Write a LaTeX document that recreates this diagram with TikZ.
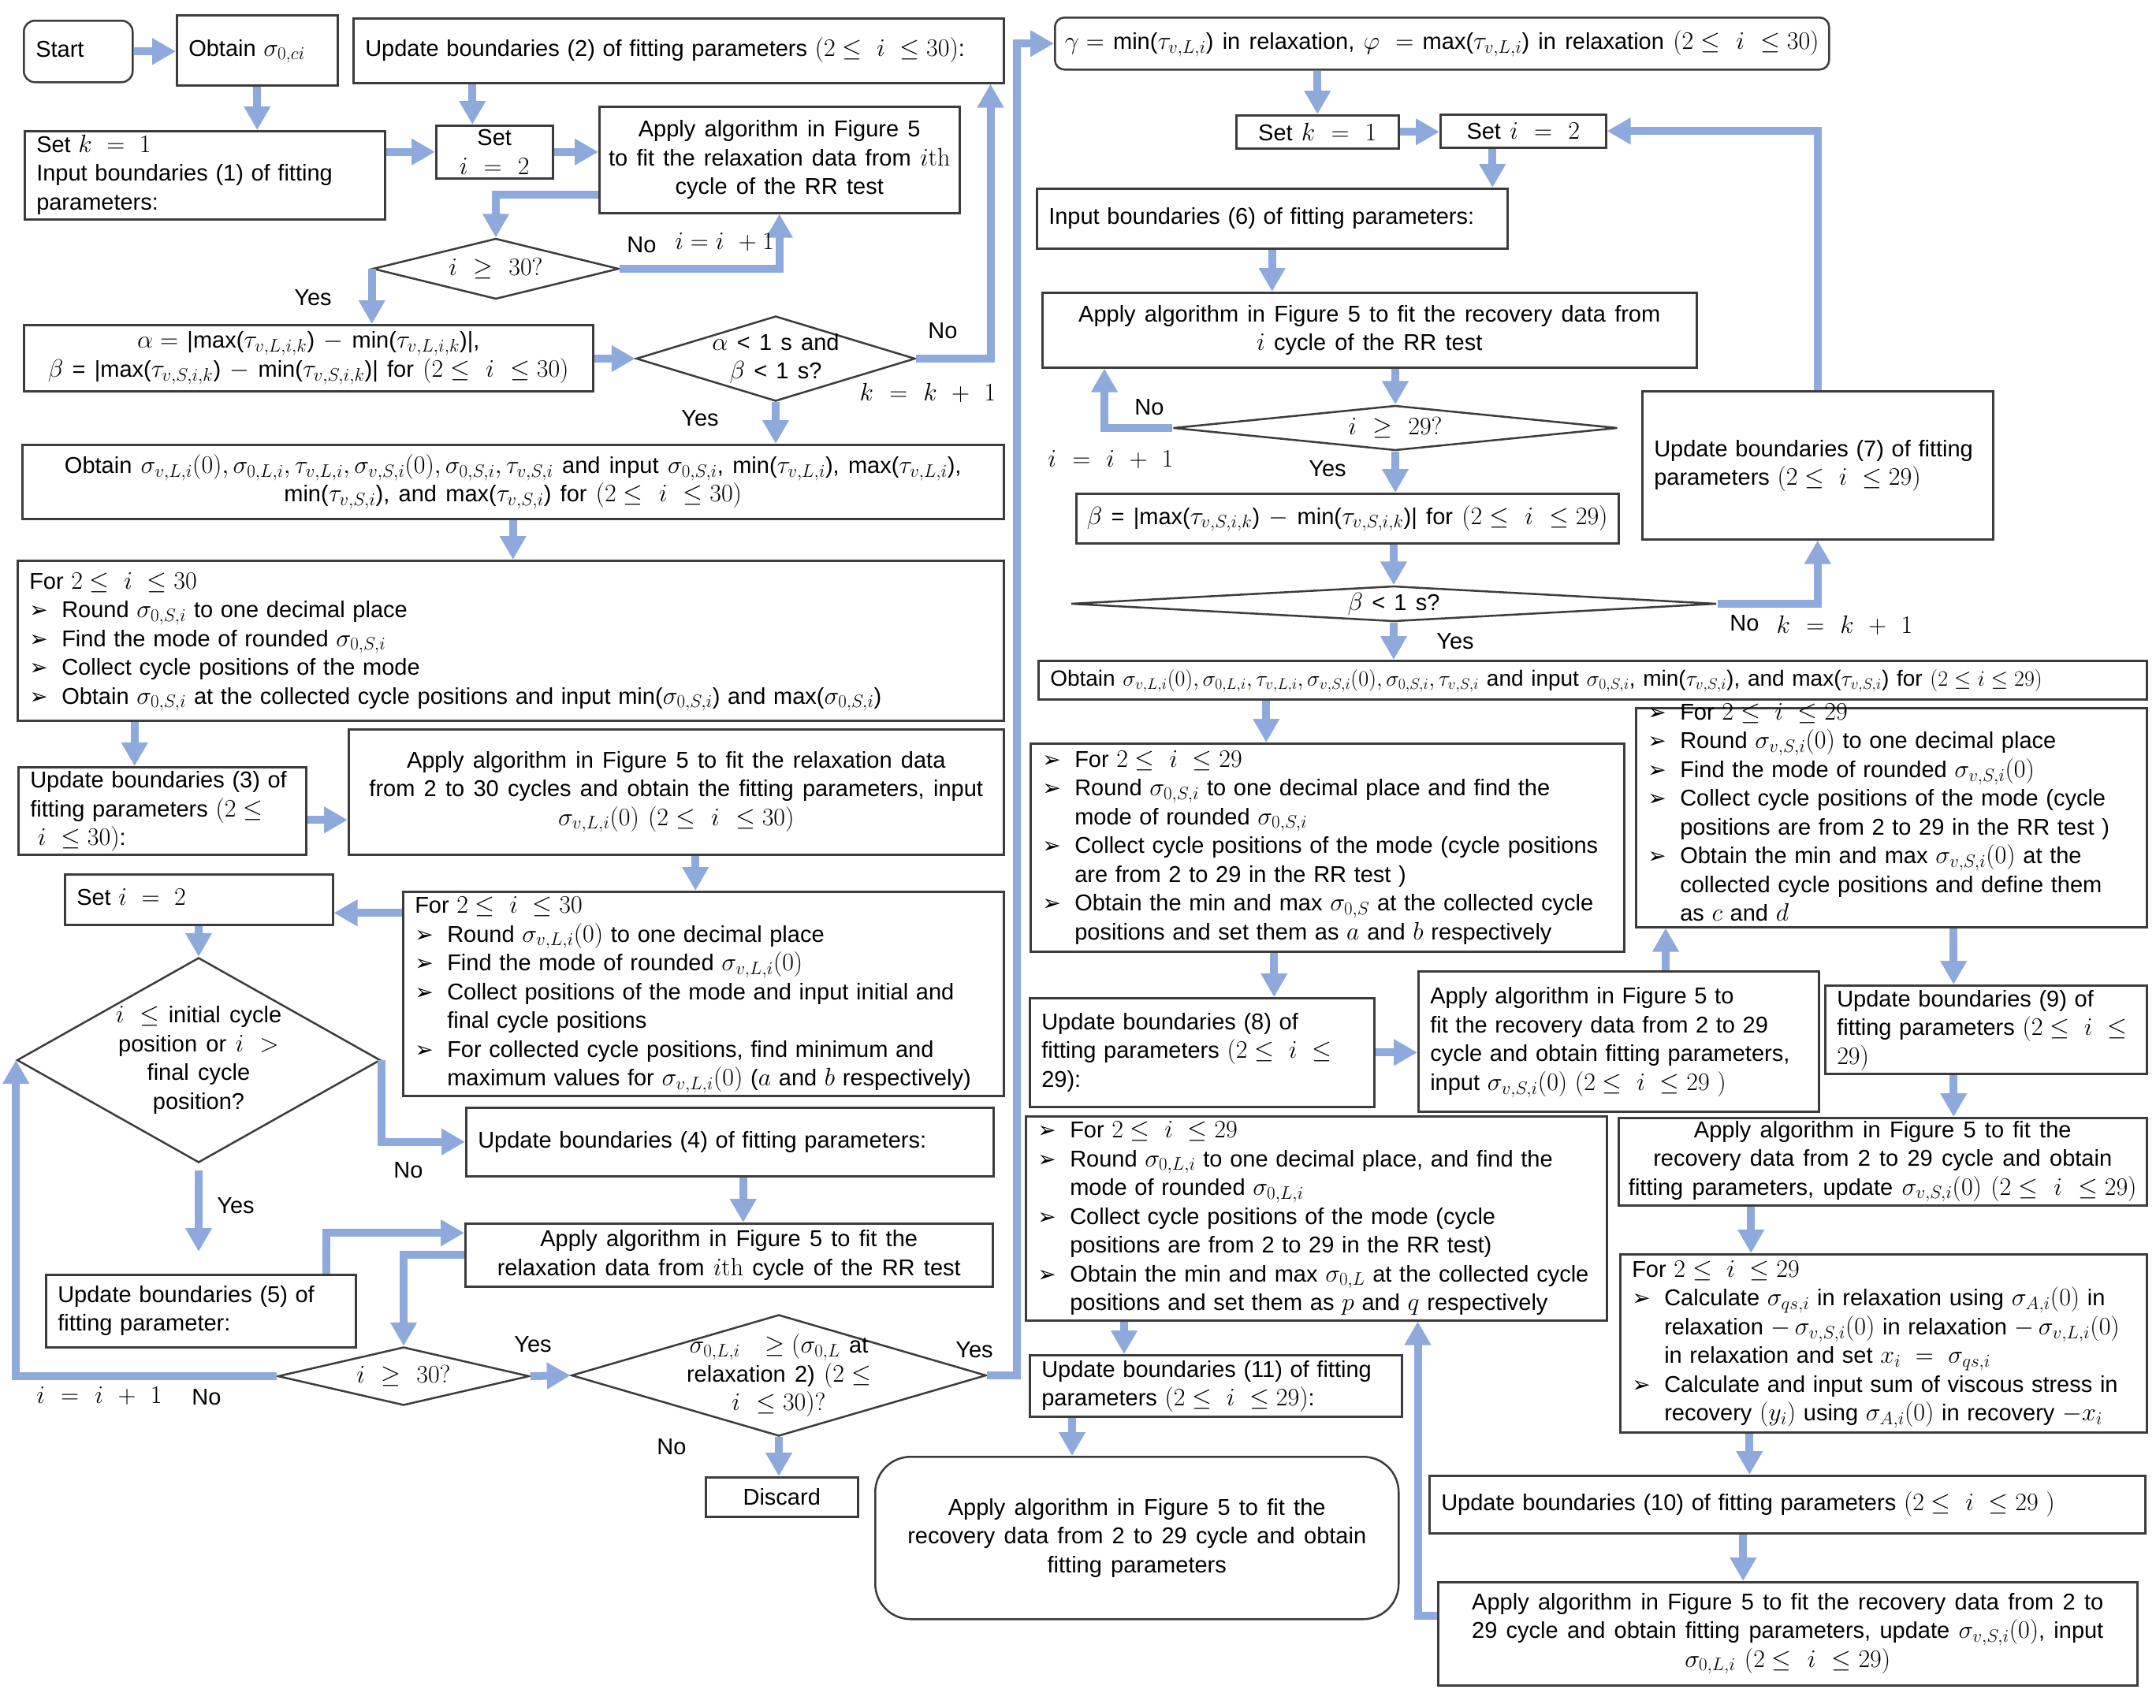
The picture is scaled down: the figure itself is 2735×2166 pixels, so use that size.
\RequirePackage{fix-cm}
\documentclass[tikz,border=0pt]{standalone}
\usepackage[no-math]{fontspec}
\setmainfont{Liberation Sans}[WordSpace=1.4]
\newfontfamily\dejavu{DejaVu Sans}
\usetikzlibrary{arrows.meta,shapes.geometric}
\DeclareMathSizes{29}{32}{23}{17}
\definecolor{conn}{RGB}{142,169,219}
\definecolor{edge}{RGB}{60,60,60}
\newcommand\fs{\fontsize{29}{36.5}\selectfont}
\newcommand\bl{\makebox[27pt][l]{\dejavu\fontsize{28}{28}\selectfont ➢}}
\newcommand\lt[1]{\begin{tabular}{@{}l@{}}#1\end{tabular}}
\newcommand\blt[1]{\begin{tabular}{@{}l@{\hspace{14pt}}l@{}}#1\end{tabular}}
\tikzset{
 box/.style={draw=edge, line width=2.5pt, fill=white, font=\fs, inner sep=0pt, anchor=north west},
 lbox/.style={box, inner xsep=15pt},
 cbox/.style={box, align=center},
 dshape/.style={diamond, draw=edge, line width=2.5pt, fill=white, inner sep=0pt},
 dtext/.style={font=\fs, align=center, inner sep=0pt},
 arr/.style={draw=conn, line width=10pt, -{Triangle[length=30pt,width=32pt]}},
 lab/.style={font=\fs, inner sep=0pt}
}
\begin{document}
\begin{tikzpicture}[x=1pt,y=-1pt]
\fill[white] (0,0) rectangle (2735,2166);
\useasboundingbox (0,0) rectangle (2735,2166);

% ---------------- left part ----------------
\node[lbox, rounded corners=14pt, text width=108pt, minimum height=78pt] (start) at (29,25) {\lt{Start}};
\node[lbox, text width=174pt, minimum height=89pt] (obtain0) at (223,18) {\lt{Obtain $\sigma_{0,ci}$}};
\node[lbox, text width=795pt, minimum height=82pt] (upd2) at (447,22) {\lt{Update boundaries (2) of fitting parameters $(2\le\ i\ \le 30)$:}};
\node[lbox, text width=427pt, minimum height=112pt] (setk) at (30,165) {\lt{Set $k\ =\ 1$\\Input boundaries (1) of fitting\\parameters:}};
\node[cbox, minimum width=148pt, minimum height=67pt] (seti) at (552,158) {Set\\$i\ =\ 2$};
\node[cbox, minimum width=457pt, minimum height=135pt] (app1) at (759,134) {Apply algorithm in Figure 5\\to fit the relaxation data from $i\mathrm{th}$\\cycle of the RR test};
\node[dshape, minimum width=312pt, minimum height=77pt] (d_i30) at (629,341) {};
\node[dtext] (d_i30t) at (d_i30) {$i\ \ge\ 30?$};
\node[cbox, minimum width=722pt, minimum height=84pt] (alpha) at (29,411) {$\alpha =$\ |max($\tau_{v,L,i,k}$) $-$ min($\tau_{v,L,i,k}$)|,\\$\beta$ = |max($\tau_{v,S,i,k}$) $-$ min($\tau_{v,S,i,k}$)| for $(2\le\ i\ \le 30)$};
\node[dshape, minimum width=354pt, minimum height=108pt] (d_alpha) at (984,455) {};
\node[dtext] (d_alphat) at (d_alpha) {$\alpha$ < 1 s and\\$\beta$ < 1 s?};
\node[cbox, minimum width=1245pt, minimum height=94pt] (obt1) at (27,563) {Obtain $\sigma_{v,L,i}(0),\sigma_{0,L,i},\tau_{v,L,i},\sigma_{v,S,i}(0),\sigma_{0,S,i},\tau_{v,S,i}$ and input $\sigma_{0,S,i}$, min($\tau_{v,L,i}$), max($\tau_{v,L,i}$),\\min($\tau_{v,S,i}$), and max($\tau_{v,S,i}$) for $(2\le\ i\ \le 30)$};
\node[lbox, text width=1221pt, minimum height=203pt] (for1) at (21,710) {\blt{\multicolumn{2}{@{}l@{}}{For $2\le\ i\ \le 30$}\\
\bl & Round $\sigma_{0,S,i}$ to one decimal place\\
\bl & Find the mode of rounded $\sigma_{0,S,i}$\\
\bl & Collect cycle positions of the mode\\
\bl & Obtain $\sigma_{0,S,i}$ at the collected cycle positions and input min($\sigma_{0,S,i}$) and max($\sigma_{0,S,i}$)}};
\node[lbox, text width=335pt, minimum height=111pt] (upd3) at (22,972) {\lt{Update boundaries (3) of\\fitting parameters $(2\le$\\\ $i\ \le 30)$:}};
\node[cbox, minimum width=831pt, minimum height=159pt] (app2) at (441,924) {Apply algorithm in Figure 5 to fit the relaxation data\\from 2 to 30 cycles and obtain the fitting parameters, input\\$\sigma_{v,L,i}(0)\ (2\le\ i\ \le 30)$};
\node[lbox, text width=310pt, minimum height=64pt] (seti2) at (81,1108) {\lt{Set $i\ =\ 2$}};
\node[lbox, text width=732pt, minimum height=259pt] (for2) at (510,1130) {\blt{\multicolumn{2}{@{}l@{}}{For $2\le\ i\ \le 30$}\\
\bl & Round $\sigma_{v,L,i}(0)$ to one decimal place\\
\bl & Find the mode of rounded $\sigma_{v,L,i}(0)$\\
\bl & Collect positions of the mode and input initial and\\
 & final cycle positions\\
\bl & For collected cycle positions, find minimum and\\
 & maximum values for $\sigma_{v,L,i}(0)$ ($a$ and $b$ respectively)}};
\node[dshape, minimum width=461pt, minimum height=260pt] (d_init) at (252,1345) {};
\node[dtext] (d_initt) at (d_init) {$i\ \le$ initial cycle\\position or $i\ >$\\final cycle\\position?};
\node[lbox, text width=639pt, minimum height=87pt] (upd4) at (590,1404) {\lt{Update boundaries (4) of fitting parameters:}};
\node[cbox, minimum width=669pt, minimum height=80pt] (app3) at (589,1551) {Apply algorithm in Figure 5 to fit the\\relaxation data from $i\mathrm{th}$ cycle of the RR test};
\node[lbox, text width=363pt, minimum height=92pt] (upd5) at (57,1616) {\lt{Update boundaries (5) of\\fitting parameter:}};
\node[dshape, minimum width=319pt, minimum height=74pt] (d_i30b) at (512,1746) {};
\node[dtext] (d_i30bt) at (d_i30b) {$i\ \ge\ 30?$};
\node[dshape, minimum width=526pt, minimum height=154pt] (d_sig) at (988,1745) {};
\node[dtext] (d_sigt) at (d_sig) {$\sigma_{0,L,i}\ \ \ge(\sigma_{0,L}$ at\\relaxation 2) $(2\le$\\$i\ \le 30)?$};
\node[cbox, minimum width=193pt, minimum height=50pt] (discard) at (894,1873) {Discard};

% ---------------- right part ----------------
\node[cbox, rounded corners=12pt, minimum width=982pt, minimum height=66pt] (gamma) at (1337,21) {$\gamma =$ min($\tau_{v,L,i}$) in relaxation, $\varphi\ =$ max($\tau_{v,L,i}$) in relaxation $(2\le\ i\ \le 30)$};
\node[cbox, minimum width=206pt, minimum height=42pt] (setk2) at (1567,145) {Set $k\ =\ 1$};
\node[cbox, minimum width=210pt, minimum height=42pt] (seti3) at (1826,144) {Set $i\ =\ 2$};
\node[lbox, text width=567pt, minimum height=76pt] (inp6) at (1314,238) {\lt{Input boundaries (6) of fitting parameters:}};
\node[cbox, minimum width=830pt, minimum height=95pt] (app4) at (1321,370) {Apply algorithm in Figure 5 to fit the recovery data from\\$i$ cycle of the RR test};
\node[dshape, minimum width=564pt, minimum height=57pt] (d_i29) at (1770,543) {};
\node[dtext] (d_i29t) at (d_i29) {$i\ \ge\ 29?$};
\node[cbox, minimum width=688pt, minimum height=63pt] (beta) at (1364,625) {$\beta$ = |max($\tau_{v,S,i,k}$) $-$ min($\tau_{v,S,i,k}$)| for $(2\le\ i\ \le 29)$};
\node[lbox, text width=415pt, minimum height=188pt] (upd7) at (2082,495) {\lt{Update boundaries (7) of fitting\\parameters $(2\le\ i\ \le 29)$}};
\node[dshape, minimum width=819pt, minimum height=45pt] (d_beta) at (1768,766) {};
\node[dtext] (d_betat) at (d_beta) {$\beta$ < 1 s?};
\node[lbox, text width=1376pt, minimum height=49pt] (obt2) at (1316,837) {\fontsize{28}{36.5}\selectfont\lt{Obtain $\sigma_{v,L,i}(0),\sigma_{0,L,i},\tau_{v,L,i},\sigma_{v,S,i}(0),\sigma_{0,S,i},\tau_{v,S,i}$ and input $\sigma_{0,S,i}$, min($\tau_{v,S,i}$), and max($\tau_{v,S,i}$) for $(2\le i\le 29)$}};
\node[lbox, text width=723pt, minimum height=264pt] (for3) at (1306,942) {\blt{\bl & For $2\le\ i\ \le 29$\\
\bl & Round $\sigma_{0,S,i}$ to one decimal place and find the\\
 & mode of rounded $\sigma_{0,S,i}$\\
\bl & Collect cycle positions of the mode (cycle positions\\
 & are from 2 to 29 in the RR test )\\
\bl & Obtain the min and max $\sigma_{0,S}$ at the collected cycle\\
 & positions and set them as $a$ and $b$ respectively}};
\node[lbox, text width=618pt, minimum height=278pt] (for4) at (2074,897) {\raisebox{-9pt}{\smash{\blt{\bl & For $2\le\ i\ \le 29$\\
\bl & Round $\sigma_{v,S,i}(0)$ to one decimal place\\
\bl & Find the mode of rounded $\sigma_{v,S,i}(0)$\\
\bl & Collect cycle positions of the mode (cycle\\
 & positions are from 2 to 29 in the RR test )\\
\bl & Obtain the min and max $\sigma_{v,S,i}(0)$ at the\\
 & collected cycle positions and define them\\
 & as $c$ and $d$}}}};
\node[lbox, text width=407pt, minimum height=138pt] (upd8) at (1305,1265) {\lt{Update boundaries (8) of\\fitting parameters $(2\le\ i\ \le$\\29):}};
\node[lbox, text width=478pt, minimum height=178pt] (app5) at (1798,1231) {\lt{Apply algorithm in Figure 5 to\\fit the recovery data from 2 to 29\\cycle and obtain fitting parameters,\\input $\sigma_{v,S,i}(0)$ $(2\le\ i\ \le 29\ )$}};
\node[lbox, text width=378pt, minimum height=112pt] (upd9) at (2314,1249) {\lt{Update boundaries (9) of\\fitting parameters $(2\le\ i\ \le$\\$29)$}};
\node[cbox, minimum width=670pt, minimum height=111pt] (app6) at (2052,1417) {Apply algorithm in Figure 5 to fit the\\recovery data from 2 to 29 cycle and obtain\\fitting parameters, update $\sigma_{v,S,i}(0)$ $(2\le\ i\ \le 29)$};
\node[lbox, text width=638pt, minimum height=226pt] (calc) at (2054,1590) {\blt{\multicolumn{2}{@{}l@{}}{For $2\le\ i\ \le 29$}\\
\bl & Calculate $\sigma_{qs,i}$ in relaxation using $\sigma_{A,i}(0)$ in\\
 & relaxation $-\,\sigma_{v,S,i}(0)$ in relaxation $-\,\sigma_{v,L,i}(0)$\\
 & in relaxation and set $x_i\ =\ \sigma_{qs,i}$\\
\bl & Calculate and input sum of viscous stress in\\
 & recovery $(y_i)$ using $\sigma_{A,i}(0)$ in recovery $-x_i$}};
\node[lbox, text width=878pt, minimum height=73pt] (upd10) at (1812,1871) {\lt{Update boundaries (10) of fitting parameters $(2\le\ i\ \le 29\ )$}};
\node[cbox, minimum width=887pt, minimum height=131pt] (app7) at (1823,2006) {Apply algorithm in Figure 5 to fit the recovery data from 2 to\\29 cycle and obtain fitting parameters, update $\sigma_{v,S,i}(0)$, input\\$\sigma_{0,L,i}$ $(2\le\ i\ \le 29)$};
\node[lbox, text width=707pt, minimum height=259pt] (for5) at (1300,1415) {\blt{\bl & For $2\le\ i\ \le 29$\\
\bl & Round $\sigma_{0,L,i}$ to one decimal place, and find the\\
 & mode of rounded $\sigma_{0,L,i}$\\
\bl & Collect cycle positions of the mode (cycle\\
 & positions are from 2 to 29 in the RR test)\\
\bl & Obtain the min and max $\sigma_{0,L}$ at the collected cycle\\
 & positions and set them as $p$ and $q$ respectively}};
\node[lbox, text width=442pt, minimum height=78pt] (upd11) at (1305,1718) {\lt{Update boundaries (11) of fitting\\parameters $(2\le\ i\ \le 29)$:}};
\node[cbox, rounded corners=45pt, minimum width=664pt, minimum height=206pt] (app8) at (1109,1847) {Apply algorithm in Figure 5 to fit the\\recovery data from 2 to 29 cycle and obtain\\fitting parameters};

% ---------------- helper coordinates ----------------
\coordinate (c1) at ([xshift=-28pt]seti.north);
\coordinate (c2) at ([yshift=-44.5pt]app1.west);
\coordinate (c3) at ([xshift=-18pt]upd2.south east);
\coordinate (c4) at ([xshift=-35pt]upd3.north);
\coordinate (c5) at ([yshift=-11.5pt]upd3.east);
\coordinate (c6) at ([xshift=-10pt]for2.north);
\coordinate (c7) at ([yshift=-17pt]seti2.east);
\coordinate (c8) at ([xshift=159.5pt]upd5.north);
\coordinate (c9) at ([yshift=28pt]app3.west);
\coordinate (c10) at ([xshift=18pt]app3.north);
\coordinate (c12) at ([xshift=-39pt]seti3.south);
\coordinate (c13) at ([xshift=80pt]app4.south west);
\coordinate (c14) at ([xshift=-77.5pt]for3.north);
\coordinate (c15) at ([xshift=91.5pt]upd8.north);
\coordinate (c16) at ([xshift=39pt]for4.south west);
\coordinate (c17) at ([xshift=-41pt]upd9.north);
\coordinate (c18) at ([xshift=-41pt]upd9.south);
\coordinate (c19) at ([xshift=-167pt]app6.south);
\coordinate (c20) at ([xshift=-170pt]calc.south);
\coordinate (c21) at ([xshift=-56pt]upd10.south);
\coordinate (c22) at ([yshift=22.5pt]app7.west);
\coordinate (c23) at ([xshift=-241pt]for5.south east);
\coordinate (c24) at ([xshift=126pt]for5.south west);
\coordinate (c25) at ([xshift=55pt]upd11.south west);

% ---------------- connectors: left ----------------
\draw[arr] (start.east) -- (start.east -| obtain0.west);
\draw[arr] (obtain0.south) -- (obtain0.south |- setk.north);
\draw[arr] (c1 |- upd2.south) -- (c1);
\draw[arr] (setk.east |- seti.west) -- (seti.west);
\draw[arr] (seti.east) -- (seti.east -| app1.west);
\draw[arr] (c2) -| (d_i30.north);
\draw[arr] (d_i30.west) -- (d_i30.west |- alpha.north);
\draw[arr] (d_i30.east) -| (app1.south);
\draw[arr] (alpha.east |- d_alpha.west) -- (d_alpha.west);
\draw[arr] (d_alpha.east) -| (c3);
\draw[arr] (d_alpha.south) -- (d_alpha.south |- obt1.north);
\draw[arr] (obt1.south) -- (obt1.south |- for1.north);
\draw[arr] (c4 |- for1.south) -- (c4);
\draw[arr] (c5) -- (c5 -| app2.west);
\draw[arr] (c6 |- app2.south) -- (c6);
\draw[arr] (c7 -| for2.west) -- (c7);
\draw[arr] (d_init.north |- seti2.south) -- (d_init.north);
\draw[arr] (d_init.east) |- (upd4.west);
\draw[arr, shorten <=9pt, shorten >=28pt] (d_init.south) -- (d_init.south |- upd5.north);
\draw[arr] (c8) |- (c9);
\draw[arr] (app3.west) -| (d_i30b.north);
\draw[arr] (c10 |- upd4.south) -- (c10);
\draw[arr] (d_i30b.west) -| (d_init.west);
\draw[arr] (d_i30b.east) -- (d_sig.west);
\draw[arr] (d_sig.south) -- (d_sig.south |- discard.north);
\draw[arr] (d_sig.east) -- ++(38,0) |- (gamma.west);

% ---------------- connectors: right ----------------
\draw[arr] (setk2.north |- gamma.south) -- (setk2.north);
\draw[arr] (setk2.east) -- (setk2.east -| seti3.west);
\draw[arr] (c12) -- (c12 |- inp6.north);
\draw[arr] (upd7.north) |- (seti3.east);
\draw[arr] (inp6.south) -- (inp6.south |- app4.north);
\draw[arr] (d_i29.north |- app4.south) -- (d_i29.north);
\draw[arr] (d_i29.west) -| (c13);
\draw[arr] (d_i29.south) -- (d_i29.south |- beta.north);
\draw[arr] (d_beta.north |- beta.south) -- (d_beta.north);
\draw[arr] (d_beta.east) -| (upd7.south);
\draw[arr] (d_beta.south) -- (d_beta.south |- obt2.north);
\draw[arr] (c14 |- obt2.south) -- (c14);
\draw[arr] (c15 |- for3.south) -- (c15);
\draw[arr] (upd8.east) -- (upd8.east -| app5.west);
\draw[arr] (c16 |- app5.north) -- (c16);
\draw[arr] (c17 |- for4.south) -- (c17);
\draw[arr] (c18) -- (c18 |- app6.north);
\draw[arr] (c19) -- (c19 |- calc.north);
\draw[arr] (c20) -- (c20 |- upd10.north);
\draw[arr] (c21) -- (c21 |- app7.north);
\draw[arr] (c22) -| (c23);
\draw[arr] (c24) -- (c24 |- upd11.north);
\draw[arr] (c25) -- (c25 |- app8.north);

% ---------------- labels ----------------
\node[lab] (l1) at (397,378) {Yes};
\node[lab] (l2) at (814,311) {No};
\node[lab] (l3) at (919,307) {$i = i\ + 1$};
\node[lab] (l4) at (1196,420) {No};
\node[lab] (l5) at (1177,498) {$k\ =\ k\ +\ 1$};
\node[lab] (l6) at (888,531) {Yes};
\node[lab] (l7) at (518,1485) {No};
\node[lab] (l8) at (299,1530) {Yes};
\node[lab] (l9) at (126,1771) {$i\ =\ i\ +\ 1$};
\node[lab] (l10) at (262,1773) {No};
\node[lab] (l11) at (676,1706) {Yes};
\node[lab] (l12) at (1236,1713) {Yes};
\node[lab] (l13) at (852,1836) {No};
\node[lab] (l14) at (1458,517) {No};
\node[lab] (l15) at (1409,583) {$i\ =\ i\ +\ 1$};
\node[lab] (l16) at (1684,595) {Yes};
\node[lab] (l17) at (2213,791) {No};
\node[lab] (l18) at (2340,793) {$k\ =\ k\ +\ 1$};
\node[lab] (l19) at (1846,814) {Yes};
\end{tikzpicture}
\end{document}
